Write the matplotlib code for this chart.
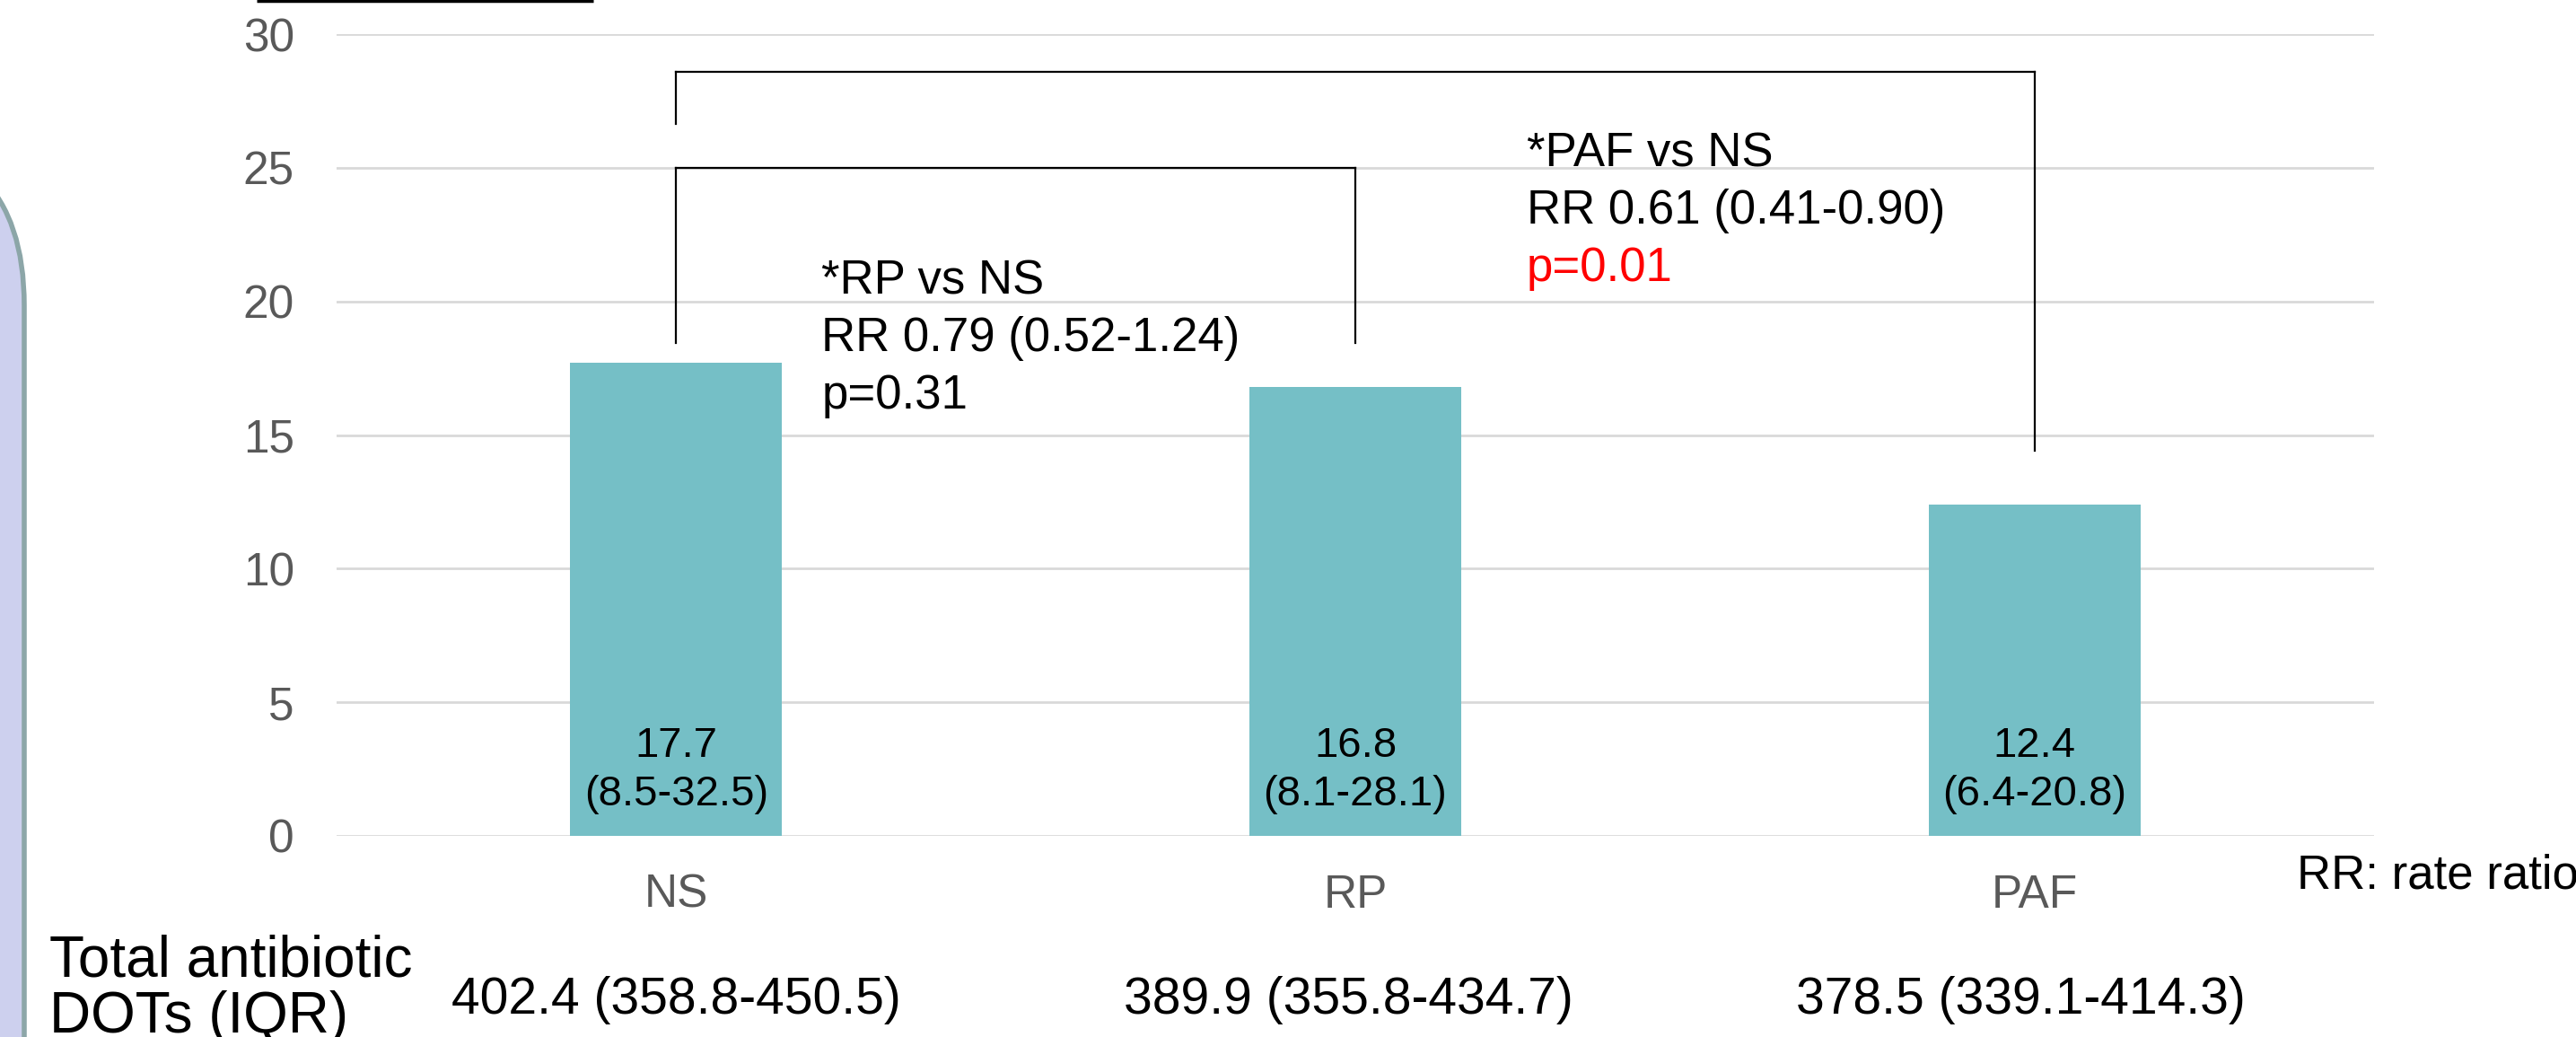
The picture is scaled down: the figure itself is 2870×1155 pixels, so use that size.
import matplotlib
matplotlib.use('Agg')
import matplotlib.pyplot as plt
from matplotlib.patches import FancyBboxPatch

plt.rcParams['font.family'] = ['Liberation Sans', 'DejaVu Sans']

groups = ['NS', 'RP', 'PAF']
median_dot = [17.7, 16.8, 12.4]
iqr_dot = ['(8.5-32.5)', '(8.1-28.1)', '(6.4-20.8)']
total_dots = ['402.4 (358.8-450.5)', '389.9 (355.8-434.7)', '378.5 (339.1-414.3)']
yticks = [0, 5, 10, 15, 20, 25, 30]

# brackets: left group, right group, top, left leg end, right leg end
brackets = [
    (0, 1, 25.0, 18.45, 18.45),
    (0, 2, 28.6, 26.65, 14.4),
]
# comparison text: x, first baseline, lines, colours
comp_text = [
    (0.214, 20.29, ['*RP vs NS', 'RR 0.79 (0.52-1.24)', 'p=0.31'], ['black', 'black', 'black']),
    (1.252, 25.06, ['*PAF vs NS', 'RR 0.61 (0.41-0.90)', 'p=0.01'], ['black', 'black', 'red']),
]

bar_color = '#75BFC6'
grey = '#595959'

fig = plt.figure(figsize=(28.7, 11.55), dpi=100)

# pixel-space layer for the side panel and the strip at the top
bg = fig.add_axes([0, 0, 1, 1], zorder=0)
bg.set_xlim(0, 2870)
bg.set_ylim(1155, 0)
bg.axis('off')
panel = FancyBboxPatch((-500, 150), 527, 1200,
                       boxstyle='round,pad=0,rounding_size=190',
                       facecolor='#CDD0EE', edgecolor='#8CA6A8', linewidth=4)
bg.add_patch(panel)
bg.plot([286, 661], [1, 1], color='black', linewidth=2.5, solid_capstyle='butt')
bg.text(55, 1087, 'Total antibiotic', fontsize=46, va='baseline', ha='left')
bg.text(55, 1150, 'DOTs (IQR)', fontsize=46, va='baseline', ha='left')

ax = fig.add_axes([375 / 2870, 1 - 931 / 1155, 2270 / 2870, 893 / 1155], zorder=1)
ax.set_facecolor('none')
x = list(range(len(groups)))
ax.bar(x, median_dot, width=0.312, color=bar_color, zorder=2)
ax.set_xlim(-0.5, 2.5)
ax.set_ylim(0, 30)
ax.set_yticks(yticks)
ax.set_yticklabels([str(t) for t in yticks], fontsize=37, color=grey)
ax.set_xticks(x)
ax.set_xticklabels(groups, fontsize=37, color=grey)
ax.tick_params(axis='both', length=0)
ax.tick_params(axis='y', pad=34)
ax.tick_params(axis='x', pad=30)
ax.grid(axis='y', color='#D9D9D9', linewidth=2, zorder=0)
ax.set_axisbelow(True)
for s in ax.spines.values():
    s.set_visible(False)

# median and IQR inside each bar
for xi, m, q in zip(x, median_dot, iqr_dot):
    ax.text(xi, 2.96, f'{m}', ha='center', va='baseline', fontsize=34, zorder=3)
    ax.text(xi, 1.14, q, ha='center', va='baseline', fontsize=34, zorder=3)

# comparison brackets
for a, b, top, la, lb in brackets:
    ax.plot([a, b], [top, top], color='black', linewidth=1.6, zorder=3)
    ax.plot([a, a], [top, la], color='black', linewidth=1.6, zorder=3)
    ax.plot([b, b], [top, lb], color='black', linewidth=1.6, zorder=3)

for tx, y0, lines, cols in comp_text:
    for i, (s, c) in enumerate(zip(lines, cols)):
        ax.text(tx, y0 - i * 2.15, s, color=c, fontsize=38, va='baseline', ha='left', zorder=4)

ax.text(2.386, -1.98, 'RR: rate ratio', fontsize=38, va='baseline', ha='left')

# total DOTs row under the axis
for xi, t in zip(x, total_dots):
    ax.text(xi - 0.01 * xi, -6.65, t, ha='center', va='baseline', fontsize=41)

fig.savefig('out.png', dpi=100)
